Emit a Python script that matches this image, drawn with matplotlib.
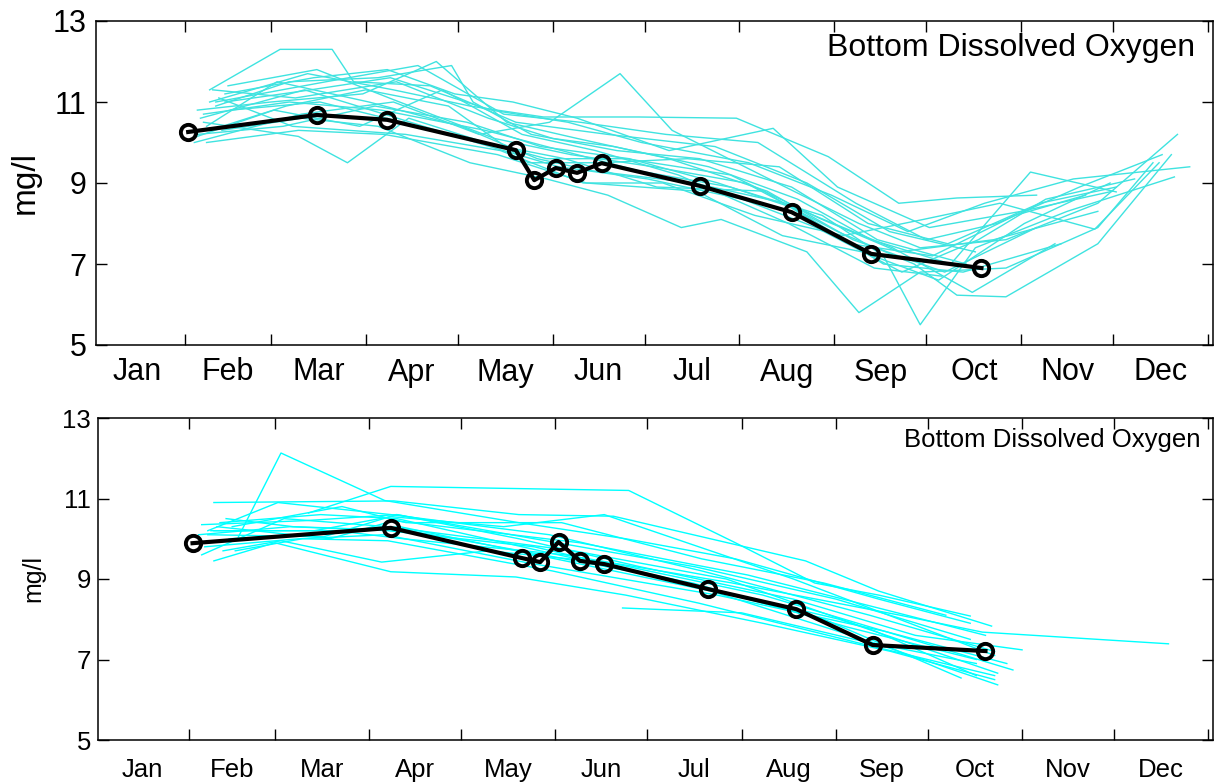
import matplotlib
matplotlib.use('Agg')
import matplotlib.pyplot as plt
from matplotlib.ticker import FixedLocator, NullFormatter, FixedFormatter

plt.rcParams['font.family'] = ['Liberation Sans', 'DejaVu Sans']

# ---------------- data ----------------
month_names = ['Jan', 'Feb', 'Mar', 'Apr', 'May', 'Jun',
               'Jul', 'Aug', 'Sep', 'Oct', 'Nov', 'Dec']
month_starts = [1, 32, 60, 91, 121, 152, 182, 213, 244, 274, 305, 335, 366]
y_ticks = [5, 7, 9, 11, 13]
title_text = 'Bottom Dissolved Oxygen'
y_label = 'mg/l'

# mean (black) series, day-of-year / mg/l
top_mean_days = [33, 75, 98, 140, 146, 153, 160, 168, 200, 230, 256, 292]
top_mean_vals = [10.26, 10.68, 10.56, 9.81, 9.07, 9.37, 9.25, 9.49, 8.93, 8.28, 7.25, 6.90]

bot_mean_days = [33, 98, 141, 147, 153, 160, 168, 202, 231, 256, 293]
bot_mean_vals = [9.89, 10.27, 9.52, 9.42, 9.92, 9.45, 9.37, 8.75, 8.25, 7.36, 7.21]

# individual years (cyan) - upper panel
top_year_days = [
    [40, 63, 80, 87, 112, 140, 170, 205, 235, 262, 290],
    [38, 69, 85, 105, 130, 150, 176, 210, 240, 265, 296, 330],
    [36, 60, 90, 114, 137, 160, 190, 222, 250, 280, 310],
    [42, 66, 95, 119, 126, 145, 173, 200, 230, 258, 287],
    [35, 70, 100, 128, 151, 174, 191, 220, 252, 272, 300, 330, 356],
    [45, 74, 98, 120, 139, 160, 190, 224, 245, 275, 305, 335],
    [40, 72, 100, 125, 149, 180, 212, 242, 265, 284, 310],
    [44, 70, 95, 125, 150, 170, 194, 207, 235, 252, 272, 300, 330, 348],
    [38, 66, 96, 130, 155, 180, 210, 240, 260, 272, 290, 320, 355],
    [46, 75, 102, 133, 158, 185, 215, 245, 270, 284, 300, 330, 354],
    [41, 68, 101, 131, 152, 172, 203, 232, 256, 282, 308, 336],
    [39, 62, 92, 122, 147, 165, 198, 228, 260, 286, 318],
    [37, 71, 97, 127, 154, 183, 214, 238, 266, 291, 313, 342],
    [43, 67, 104, 135, 162, 188, 218, 247, 273, 298, 329, 350],
    [36, 64, 94, 124, 148, 177, 206, 234, 263, 289, 316],
    [45, 73, 99, 132, 157, 181, 216, 243, 268, 293, 322, 360],
    [40, 65, 91, 118, 144, 168, 196, 226, 255, 281, 311, 336],
    [47, 76, 103, 129, 156, 186, 221, 249, 276, 303, 326],
    [34, 61, 89, 116, 142, 166, 193, 229, 257, 279],
    [42, 78, 108, 136, 161, 189, 219, 251, 274, 297, 324, 351],
    [39, 69, 97, 134, 163, 199, 227, 253, 278, 306, 334],
]
top_year_vals = [
    [11.3, 12.3, 12.3, 11.5, 11.4, 10.5, 10.2, 9.9, 9.0, 7.8, 7.3],
    [10.5, 10.15, 9.5, 10.6, 10.0, 9.6, 9.6, 9.2, 8.1, 7.3, 7.6, 8.3],
    [10.8, 11.0, 11.2, 12.0, 10.5, 10.1, 9.6, 8.8, 7.6, 6.8, 7.9],
    [10.9, 11.5, 11.6, 11.9, 11.0, 10.2, 9.8, 9.6, 8.9, 7.6, 7.0],
    [10.0, 10.7, 11.0, 10.2, 10.5, 11.7, 10.3, 9.2, 8.0, 7.4, 7.6, 8.5, 10.2],
    [11.2, 11.6, 11.8, 11.2, 11.0, 10.6, 9.8, 10.35, 8.9, 7.9, 8.3, 8.8],
    [11.0, 11.7, 11.3, 10.9, 10.63, 10.63, 10.6, 9.65, 8.5, 8.63, 8.7],
    [10.3, 10.6, 10.4, 9.5, 9.1, 8.7, 7.9, 8.1, 7.3, 5.8, 6.8, 6.9, 7.9, 9.5],
    [10.7, 11.0, 10.8, 10.3, 9.8, 9.3, 8.9, 8.2, 7.2, 5.5, 7.4, 8.3, 9.15],
    [11.4, 11.8, 11.0, 10.1, 9.7, 9.4, 9.0, 7.8, 7.0, 6.23, 6.19, 7.5, 9.7],
    [11.3, 11.1, 11.5, 10.6, 10.1, 9.9, 9.4, 8.6, 7.6, 7.0, 9.27, 8.78],
    [10.4, 11.5, 11.0, 10.4, 9.6, 9.3, 9.0, 8.5, 7.0, 6.8, 7.5],
    [10.6, 11.3, 10.7, 10.0, 9.4, 9.1, 8.6, 7.9, 6.8, 7.6, 8.6, 9.1],
    [11.1, 10.4, 10.2, 9.8, 9.0, 9.0, 8.2, 7.7, 8.1, 8.5, 7.86, 9.5],
    [10.2, 10.4, 10.9, 10.5, 9.9, 9.6, 9.0, 8.3, 7.4, 6.3, 7.5],
    [11.0, 11.3, 11.6, 10.8, 10.5, 10.0, 9.5, 8.7, 7.8, 8.5, 9.1, 9.4],
    [10.3, 10.9, 11.3, 10.9, 9.5, 9.5, 9.6, 9.4, 8.0, 7.5, 8.5, 8.9],
    [10.8, 11.0, 10.5, 10.0, 9.6, 8.9, 8.8, 7.5, 7.2, 8.2, 8.7],
    [10.1, 10.8, 10.4, 11.3, 10.2, 9.8, 9.2, 8.0, 6.9, 6.7],
    [11.0, 11.5, 11.9, 10.7, 10.5, 10.2, 10.0, 8.5, 7.6, 8.0, 8.9, 9.7],
    [10.0, 10.3, 10.2, 9.7, 9.0, 8.8, 7.7, 7.3, 6.6, 8.0, 9.0],
]

# individual years (cyan) - lower panel
bot_year_days = [
    [48, 62, 96, 140, 175, 211, 258, 288],
    [71, 98, 176, 211, 237, 258, 288],
    [40, 99, 140, 171, 234, 258, 295],
    [38, 61, 98, 150, 200, 255, 296],
    [43, 62, 95, 130, 170, 220, 260, 300],
    [40, 60, 98, 139, 175, 220, 262, 296],
    [36, 70, 100, 140, 180, 230, 270, 305],
    [35, 65, 97, 145, 190, 240, 285],
    [42, 75, 100, 147, 195, 245, 297],
    [37, 68, 96, 143, 205, 260, 302],
    [45, 72, 101, 152, 203, 253, 297],
    [39, 80, 102, 155, 210, 265, 292, 353],
    [44, 66, 104, 148, 197, 248, 290],
    [41, 78, 99, 160, 215, 262, 293],
    [36, 63, 97, 158, 208, 257, 290],
    [174, 213, 250, 290],
    [46, 82, 103, 154, 200, 240, 280],
    [38, 76, 100, 145, 198, 244, 288],
    [40, 73, 98, 135, 168, 230, 296],
    [47, 69, 97, 151, 199, 252, 296],
]
bot_year_vals = [
    [10.04, 12.13, 10.95, 10.4, 10.0, 9.5, 8.5, 7.9],
    [10.64, 11.3, 11.2, 9.9, 8.9, 8.6, 8.08],
    [10.9, 10.94, 10.6, 10.56, 9.45, 8.7, 7.83],
    [10.2, 10.9, 10.6, 10.1, 9.2, 8.1, 7.2],
    [9.7, 9.95, 9.42, 9.7, 9.4, 8.6, 7.7, 6.9],
    [9.45, 9.9, 9.18, 9.05, 8.6, 7.9, 7.2, 6.5],
    [10.35, 10.45, 10.6, 10.0, 9.3, 8.5, 7.6, 7.24],
    [10.1, 10.3, 10.2, 9.8, 9.0, 8.0, 6.54],
    [10.4, 10.6, 10.5, 9.7, 8.9, 8.0, 6.66],
    [9.8, 10.0, 10.1, 9.4, 8.6, 7.7, 6.74],
    [10.0, 10.1, 10.3, 9.5, 8.7, 7.5, 6.37],
    [10.2, 10.2, 10.0, 9.6, 8.9, 8.1, 7.68, 7.39],
    [10.5, 10.3, 10.2, 9.6, 8.9, 7.8, 7.0],
    [10.3, 10.0, 10.45, 9.9, 9.1, 8.2, 7.6],
    [9.6, 10.5, 10.3, 9.7, 9.0, 7.7, 6.6],
    [8.28, 8.16, 7.5, 6.9],
    [10.3, 10.8, 10.4, 10.4, 9.5, 8.9, 8.1],
    [10.1, 10.05, 10.6, 10.0, 9.3, 8.5, 7.5],
    [10.2, 10.2, 10.55, 10.3, 10.6, 9.0, 7.1],
    [9.7, 10.0, 9.95, 9.2, 8.4, 7.4, 6.6],
]

# ---------------- figure ----------------
W, H = 1221, 782
fig = plt.figure(figsize=(W / 100, H / 100), dpi=100)
fig.patch.set_facecolor('white')

ax1 = fig.add_axes([96 / W, 1 - 345 / H, 1117 / W, 324 / H])
ax2 = fig.add_axes([98 / W, 1 - 740 / H, 1115 / W, 322 / H])

month_mids = [(month_starts[i] + month_starts[i + 1]) / 2 for i in range(12)]


def style_axes(ax, xlim, tick_fs, ypad, xpad, title_fs, title_xy):
    ax.set_xlim(*xlim)
    ax.set_ylim(5, 13)
    ax.xaxis.set_major_locator(FixedLocator(month_starts[1:]))
    ax.xaxis.set_major_formatter(NullFormatter())
    ax.xaxis.set_minor_locator(FixedLocator(month_mids))
    ax.xaxis.set_minor_formatter(FixedFormatter(month_names))
    ax.set_yticks(y_ticks)
    ax.set_yticklabels([str(v) for v in y_ticks])
    ax.tick_params(axis='both', which='major', direction='in', length=8,
                   width=1.0, top=True, right=True, color='black')
    ax.tick_params(axis='y', which='major', labelsize=tick_fs, pad=ypad)
    ax.tick_params(axis='x', which='minor', length=0, labelsize=tick_fs, pad=xpad,
                   top=False)
    for s in ax.spines.values():
        s.set_linewidth(1.1)
        s.set_color('black')
    ax.text(title_xy[0], title_xy[1], title_text, transform=ax.transAxes,
            ha='right', va='baseline', fontsize=title_fs, color='black')


# upper panel
for d, v in zip(top_year_days, top_year_vals):
    ax1.plot(d, v, color='#3fe3e0', lw=1.0, zorder=2)
ax1.plot(top_mean_days, top_mean_vals, color='black', lw=3.0, marker='o',
         ms=11, mfc='none', mec='black', mew=2.8, zorder=5)
style_axes(ax1, (2.9, 367.6), 22, 7, 9, 23, (0.984, 0.893))
ax1.set_ylabel(y_label, fontsize=24, labelpad=8)

# lower panel
for d, v in zip(bot_year_days, bot_year_vals):
    ax2.plot(d, v, color='#00ffff', lw=1.0, zorder=2)
ax2.plot(bot_mean_days, bot_mean_vals, color='black', lw=3.0, marker='o',
         ms=11, mfc='none', mec='black', mew=2.8, zorder=5)
style_axes(ax2, (2.0, 367.6), 18.5, 5, 13, 18.5, (0.989, 0.91))
ax2.set_ylabel(y_label, fontsize=18, labelpad=12)

fig.savefig('out.png', dpi=100)
